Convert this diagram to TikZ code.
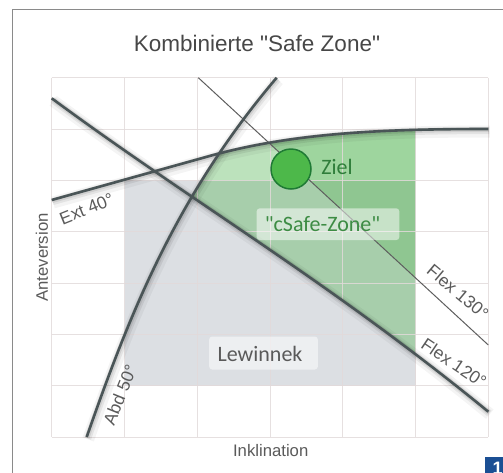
\documentclass[tikz,border=0pt]{standalone}
\usepackage{fontspec}
\setmainfont{Liberation Sans}[Ligatures=TeXOff]
\newfontfamily\calib{Carlito}[Ligatures=TeXOff]
\definecolor{framecol}{HTML}{8A8A8A}
\definecolor{gridcol}{HTML}{E2DADA}
\definecolor{lewcol}{HTML}{DCDFE3}
\definecolor{zonegreen}{RGB}{88,182,88}
\definecolor{linecol}{HTML}{4A5557}
\definecolor{thincol}{HTML}{5E5E5E}
\definecolor{labcol}{HTML}{5A5A5A}
\definecolor{titlecol}{HTML}{474747}
\definecolor{zieltext}{HTML}{2F7D3A}
\definecolor{safetext}{HTML}{3D8C44}
\definecolor{zielfill}{HTML}{4DB84A}
\definecolor{zielline}{HTML}{1F7A35}
\definecolor{bluebox}{HTML}{1B4F94}
\newcommand\extcurve{(51.7,200) -- (205,157.3) .. controls (290,133) and (380,129) .. (488.3,129)}
\newcommand\abdcurve{(86.7,437) .. controls (128.7,317) and (174.7,197.7) .. (276.7,77.7)}
\newcommand\flexcurve{(51.7,98.3) .. controls (192,202) and (330,282) .. (488.3,411.7)}
\begin{document}
\begin{tikzpicture}[x=1pt,y=-1pt,
  gridline/.style={draw=gridcol, opacity=0.85, line width=0.8pt},
  thickline/.style={draw=linecol, line width=2.6pt},
  shadowA/.style={draw=black, opacity=0.045, line width=12pt},
  shadowB/.style={draw=black, opacity=0.07, line width=7pt},
  shadowC/.style={draw=black, opacity=0.09, line width=4.5pt},
  linelabel/.style={text=labcol, font=\fontsize{17.5}{20}\selectfont, inner sep=0pt},
  axislabel/.style={text=labcol, font=\fontsize{16.7}{20}\selectfont, inner sep=0pt},
  zonebox/.style={fill=white, fill opacity=0.5, rounded corners=3pt, inner sep=0pt},
  zonetext/.style={font=\calib\fontsize{22}{26}\selectfont, inner sep=0pt}]
\useasboundingbox (0,0) rectangle (503,472);
\begin{scope}
\clip (0,0) rectangle (503,472);
% frame
\draw[framecol, line width=1.5pt] (12.5,480) -- (12.5,9.5) -- (510,9.5);
% title
\node[text=titlecol, font=\fontsize{22.5}{27}\selectfont, inner sep=0pt] (title) at (257,43.3) {Kombinierte "Safe Zone"};
% Lewinnek region
\fill[lewcol] (124.5,180.3) rectangle (415.5,385.7);
% green zone
\begin{scope}
  \clip \extcurve -- (488.3,500) -- (0,500) -- (0,200) -- cycle;
  \clip \abdcurve -- (600,77.7) -- (600,500) -- (86.7,500) -- cycle;
  \clip \flexcurve -- (600,411.7) -- (600,0) -- (0,0) -- (0,98.3) -- cycle;
  \fill[zonegreen, opacity=0.4] (0,0) rectangle (415.5,500);
  \clip (198.3,77.7) -- (488.3,345) -- (600,345) -- (600,0) -- (198.3,0) -- cycle;
  \fill[zonegreen, opacity=0.3] (0,0) rectangle (415.5,500);
\end{scope}
% grid
\foreach \x in {51.7,124.5,197.3,270,342.8,415.5,488.3}
  \draw[gridline] (\x,77.7) -- (\x,437);
\foreach \y in {77.7,129,180.3,231.7,283,334.3,385.7,437}
  \draw[gridline] (51.7,\y) -- (488.3,\y);
% shadows
\begin{scope}[shift={(1.5,2.5)}]
  \draw[shadowA] \extcurve;
  \draw[shadowA] \abdcurve;
  \draw[shadowA] \flexcurve;
\end{scope}
\begin{scope}[shift={(1,1.6)}]
  \draw[shadowB] \extcurve;
  \draw[shadowB] \abdcurve;
  \draw[shadowB] \flexcurve;
\end{scope}
\begin{scope}[shift={(0.5,0.8)}]
  \draw[shadowC] \extcurve;
  \draw[shadowC] \abdcurve;
  \draw[shadowC] \flexcurve;
\end{scope}
% lines
\draw[thincol, line width=1pt] (198.3,77.7) coordinate (f130a) -- (488.3,345) coordinate (f130b);
\draw[thickline] \extcurve;
\draw[thickline] \abdcurve;
\draw[thickline] \flexcurve;
% target
\node[circle, draw=zielline, fill=zielfill, line width=1.5pt, minimum size=40pt, inner sep=0pt] (ziel) at (291,169) {};
\node[zonetext, text=zieltext] (ziellabel) at (337,166.5) {Ziel};
% zone labels
\node[zonebox, minimum width=142.6pt, minimum height=31.7pt] (safebox) at (328,224.2) {};
\node[zonetext, text=safetext] (safelabel) at (322.5,224.5) {"cSafe-Zone"};
\node[zonebox, minimum width=108.7pt, minimum height=33pt] (lewbox) at (263.5,353) {};
\node[zonetext, text=labcol] (lewlabel) at (260,354) {Lewinnek};
% line labels
\node[linelabel, rotate=22] (extlab) at (86.7,209) {Ext 40°};
\node[linelabel, rotate=68] (abdlab) at (120,395) {Abd 50°};
\node[linelabel, rotate=-40] (f130lab) at (458,292) {Flex 130°};
\node[linelabel, rotate=-34] (f120lab) at (454,363) {Flex 120°};
% axis labels
\node[axislabel, rotate=90] (ylab) at (42,257.5) {Anteversion};
\node[axislabel] (xlab) at (270.7,450.7) {Inklination};
% figure number
\fill[bluebox] (485,457.3) rectangle (510,480);
\node[text=white, font=\bfseries\fontsize{18}{20}\selectfont, inner sep=0pt, anchor=base west] (fignum) at (492.5,474.6) {1};
\end{scope}
\end{tikzpicture}
\end{document}
